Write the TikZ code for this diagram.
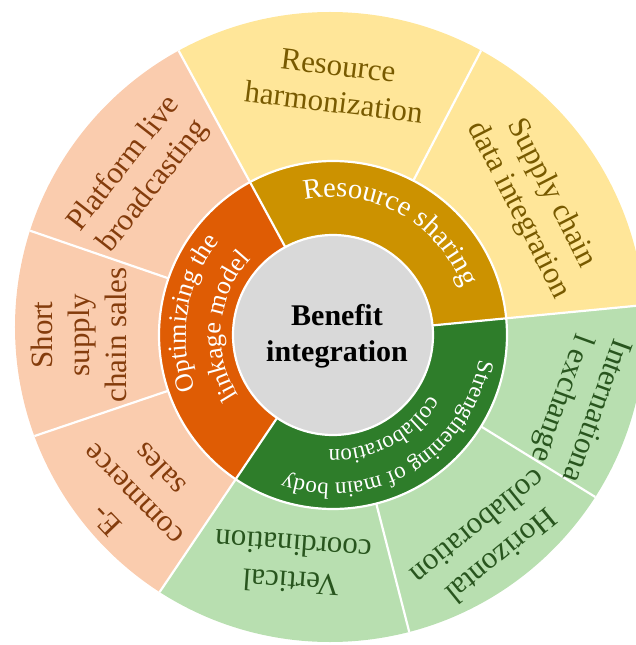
\documentclass[tikz,border=0pt]{standalone}
\usepackage{fontspec}
\setmainfont{Liberation Serif}
\usetikzlibrary{decorations.text}
\definecolor{peach}{RGB}{250,204,174}
\definecolor{lyellow}{RGB}{255,230,153}
\definecolor{lgreen}{RGB}{184,223,176}
\definecolor{dorange}{RGB}{223,92,4}
\definecolor{dgold}{RGB}{204,146,0}
\definecolor{dgreen}{RGB}{46,125,42}
\definecolor{cgray}{RGB}{217,217,217}
\definecolor{tbrown}{RGB}{132,60,12}
\definecolor{tolive}{RGB}{120,90,0}
\definecolor{tgreen}{RGB}{40,85,30}
\newcommand{\outerfont}{\fontsize{31}{37}\selectfont}
\newcommand{\centerfont}{\fontsize{30}{36}\selectfont\bfseries}
\newcommand{\midfont}{\fontsize{28.5}{33}\selectfont}
\newcommand{\optfont}{\fontsize{26}{31}\selectfont}
\newcommand{\strfont}{\fontsize{23}{28}\selectfont}
\begin{document}
\begin{tikzpicture}[x=1pt,y=1pt,
  sep/.style={white,line width=2.2pt},
  outertext/.style={align=center,font=\outerfont,inner sep=0pt},
  curved/.style={decorate,decoration={text along path,text color=white,text align=center,text={#1}}}
]
\useasboundingbox (-333,-310) rectangle (303,335);
\clip (-333,-310) rectangle (303,335);
\coordinate (M) at (0,0);
\coordinate (O) at (-3,8);
% outer ring sectors
\begin{scope}
\clip (O) circle (315);
\foreach \a/\b/\c in {118.5/161/peach, 161/198.7/peach, 198.7/236/peach, 236/284.4/lgreen, 284.4/328.3/lgreen, 328.3/365.5/lgreen, 5.5/62.5/lyellow, 62.5/118.5/lyellow}{
  \fill[\c] (M) -- (\a:700) -- ({(\a+\b)/2}:700) -- (\b:700) -- cycle;
}
% middle ring sectors
\foreach \a/\b/\c in {118.5/236/dorange, 5.5/118.5/dgold, 236/365.5/dgreen}{
  \fill[\c] (M) -- (\a:174) arc[start angle=\a, end angle=\b, radius=174] -- cycle;
}
\foreach \a in {161,198.7,284.4,328.3,62.5}{ \draw[sep] (\a:174) -- (\a:700); }
\foreach \a in {118.5,236,5.5}{ \draw[sep] (\a:100) -- (\a:700); }
\end{scope}
\draw[sep] (M) circle (174);
\fill[cgray] (M) circle (100);
\draw[sep] (M) circle (100);
% outer texts
\node[outertext, text=tolive, rotate=-7] (t1) at (3,251) {Resource\\harmonization};
\node[outertext, text=tolive, rotate=-63] (t2) at (202,133) {Supply chain\\data integration};
\node[outertext, text=tbrown, rotate=52] (t3) at (-194,160) {Platform live\\broadcasting};
\node[outertext, text=tbrown, rotate=90] (t4) at (-254,0) {Short\\supply\\chain sales};
\node[outertext, text=tbrown, rotate=134] (t5) at (-200,-160) {E-\\commerce\\sales};
\node[outertext, text=tgreen, rotate=176] (t6) at (-41,-229) {Vertical\\coordination};
\node[outertext, text=tgreen, rotate=219] (t7) at (157,-207) {Horizontal\\collaboration};
\node[outertext, text=tgreen, rotate=-110] (t8) at (245,-69) {Internationa\\l exchange};
% center
\node[font=\centerfont, align=center, inner sep=0pt] (c) at (4,-1) {Benefit\\integration};
% curved middle texts
\path[curved={|\midfont|Resource sharing}] (121:138) arc[start angle=121, end angle=1, radius=138];
\path[curved={|\optfont|Optimizing the}] (241:147) arc[start angle=241, end angle=101, radius=147];
\path[curved={|\optfont|linkage model}] (255:112) arc[start angle=255, end angle=95, radius=112];
\path[curved={|\strfont|Strengthening of main body}] (375.5:148) arc[start angle=375.5, end angle=225.5, radius=148];
\path[curved={|\strfont|collaboration}] (373:115) arc[start angle=373, end angle=223, radius=115];
\end{tikzpicture}
\end{document}
